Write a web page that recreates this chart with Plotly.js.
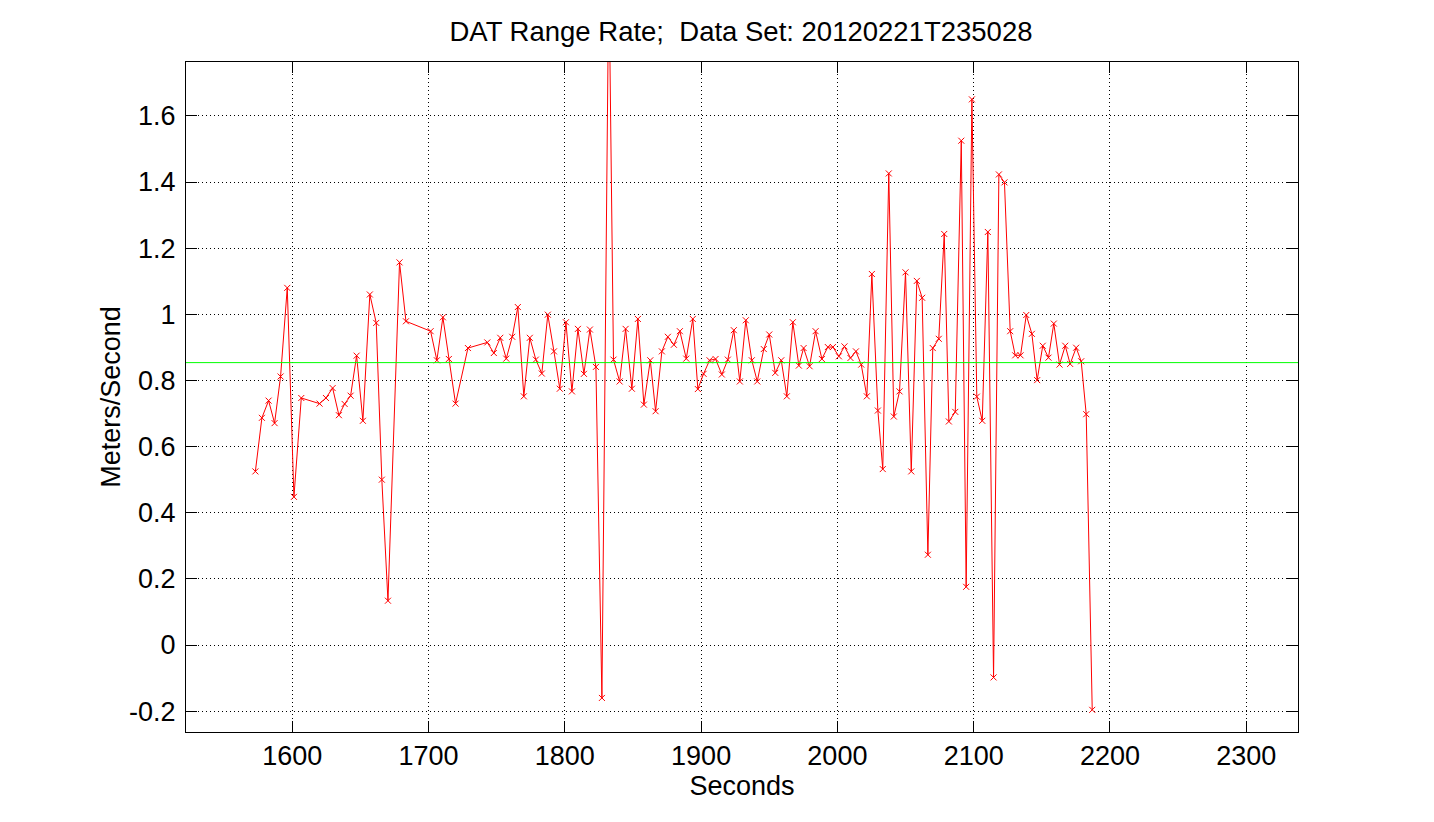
<!DOCTYPE html>
<html>
<head>
<meta charset="utf-8">
<script src="https://cdn.plot.ly/plotly-3.0.1.min.js"></script>
<style>html,body{margin:0;padding:0;background:#fff;}#chart{width:1434px;height:822px;}</style>
</head>
<body>
<div id="chart"></div>
<script>
const seconds = [1572.9,1577.7,1582.6,1587.0,1591.4,1596.3,1601.2,1606.6,1620.0,1624.7,
1629.6,1634.2,1638.4,1642.8,1647.2,1651.8,1656.9,1661.6,1665.7,1670.2,
1678.7,1683.4,1701.5,1706.1,1710.5,1714.9,1719.8,1728.9,1743.1,1747.9,
1752.6,1757.0,1761.4,1765.5,1769.9,1774.3,1778.7,1783.1,1787.5,1792.0,
1796.3,1800.8,1805.2,1809.6,1814.0,1818.4,1822.8,1827.2,1832.3,1835.7,
1840.2,1844.6,1849.2,1853.6,1858.0,1862.7,1866.6,1871.2,1875.6,1880.0,
1884.4,1889.1,1893.9,1897.6,1901.8,1906.2,1910.6,1915.2,1919.6,1924.0,
1928.4,1932.8,1937.2,1941.2,1946.0,1950.0,1954.4,1958.8,1962.9,1967.3,
1971.7,1975.2,1979.6,1984.0,1988.6,1993.0,1996.7,2001.1,2005.2,2009.6,
2013.6,2017.5,2021.6,2025.3,2029.7,2033.3,2037.7,2041.4,2045.6,2050.0,
2054.2,2058.3,2062.2,2066.4,2070.0,2074.4,2078.4,2081.8,2086.5,2090.9,
2094.5,2098.7,2102.3,2106.3,2110.4,2114.6,2118.5,2122.6,2126.8,2130.5,
2134.4,2138.6,2142.7,2146.6,2150.7,2154.9,2158.8,2163.0,2167.2,2170.8,
2175.2,2178.9,2182.6,2187.0];

const rangeRate = [0.525,0.687,0.739,0.671,0.812,1.080,0.448,0.747,0.730,0.747,
0.777,0.695,0.729,0.754,0.875,0.678,1.060,0.974,0.500,0.134,
1.157,0.979,0.949,0.861,0.991,0.865,0.730,0.898,0.915,0.883,
0.929,0.866,0.932,1.022,0.752,0.929,0.863,0.821,0.999,0.888,
0.775,0.976,0.767,0.956,0.820,0.954,0.841,-0.160,2.05,0.863,
0.797,0.956,0.775,0.986,0.727,0.861,0.707,0.888,0.932,0.908,
0.949,0.866,0.986,0.774,0.820,0.861,0.865,0.818,0.863,0.952,
0.797,0.982,0.861,0.797,0.895,0.939,0.823,0.861,0.752,0.976,
0.845,0.898,0.843,0.949,0.865,0.901,0.901,0.873,0.903,0.868,
0.888,0.848,0.752,1.122,0.709,0.532,1.426,0.691,0.767,1.127,
0.525,1.101,1.050,0.273,0.898,0.926,1.243,0.676,0.705,1.525,
0.176,1.650,0.751,0.678,1.249,-0.098,1.423,1.399,0.949,0.876,
0.876,0.998,0.941,0.801,0.905,0.869,0.972,0.848,0.905,0.850,
0.899,0.858,0.698,-0.196];

const meanRate = 0.854;

const xTickVals = [1600,1700,1800,1900,2000,2100,2200,2300];
const xTickText = ["1600","1700","1800","1900","2000","2100","2200","2300"];
const yTickVals = [-0.2,0,0.2,0.4,0.6,0.8,1,1.2,1.4,1.6];
const yTickText = ["-0.2","0","0.2","0.4","0.6","0.8","1","1.2","1.4","1.6"];
const xRange = [1522, 2338];
const yRange = [-0.263, 1.763];

const FONT = "Liberation Sans, Arial, Helvetica, sans-serif";

const trace = {
  x: seconds, y: rangeRate, type: "scatter", mode: "lines+markers",
  line: {color: "#ff0000", width: 1},
  marker: {symbol: "x-thin", size: 6, color: "#ff0000", line: {color: "#ff0000", width: 1}},
  cliponaxis: true, hoverinfo: "x+y"
};

const axisCommon = {
  showline: true, linecolor: "#000", linewidth: 1, mirror: "ticks",
  ticks: "inside", ticklen: 11, tickwidth: 1, tickcolor: "#000",
  showgrid: true, gridcolor: "#000", gridwidth: 1, griddash: "1px,3px",
  zeroline: false, tickmode: "array", autorange: false,
  tickfont: {family: FONT, size: 27, color: "#000"}
};

const layout = {
  width: 1434, height: 822,
  margin: {l: 186, r: 136, t: 62, b: 90, pad: 0},
  paper_bgcolor: "#fff", plot_bgcolor: "#fff",
  showlegend: false,
  font: {family: FONT, size: 27, color: "#000"},
  title: {text: "DAT Range Rate;  Data Set: 20120221T235028",
    font: {family: FONT, size: 27.5, color: "#000"},
    x: 741/1434, xref: "container", xanchor: "center",
    y: 1 - 31/822, yref: "container", yanchor: "middle"},
  xaxis: Object.assign({}, axisCommon, {
    range: xRange, tickvals: xTickVals, ticktext: xTickText,
    ticklabelstandoff: 0,
    title: {text: "Seconds", font: {family: FONT, size: 27, color: "#000"}, standoff: 0}
  }),
  yaxis: Object.assign({}, axisCommon, {
    range: yRange, tickvals: yTickVals, ticktext: yTickText,
    ticklabelstandoff: 4,
    title: {text: "Meters/Second", font: {family: FONT, size: 27, color: "#000"}, standoff: 0}
  }),
  shapes: [{type: "line", xref: "paper", x0: 0, x1: 1, yref: "y", y0: meanRate, y1: meanRate,
    line: {color: "#00ff00", width: 1}, layer: "above"}]
};

Plotly.newPlot("chart", [trace], layout, {staticPlot: true, displayModeBar: false});
</script>
</body>
</html>
